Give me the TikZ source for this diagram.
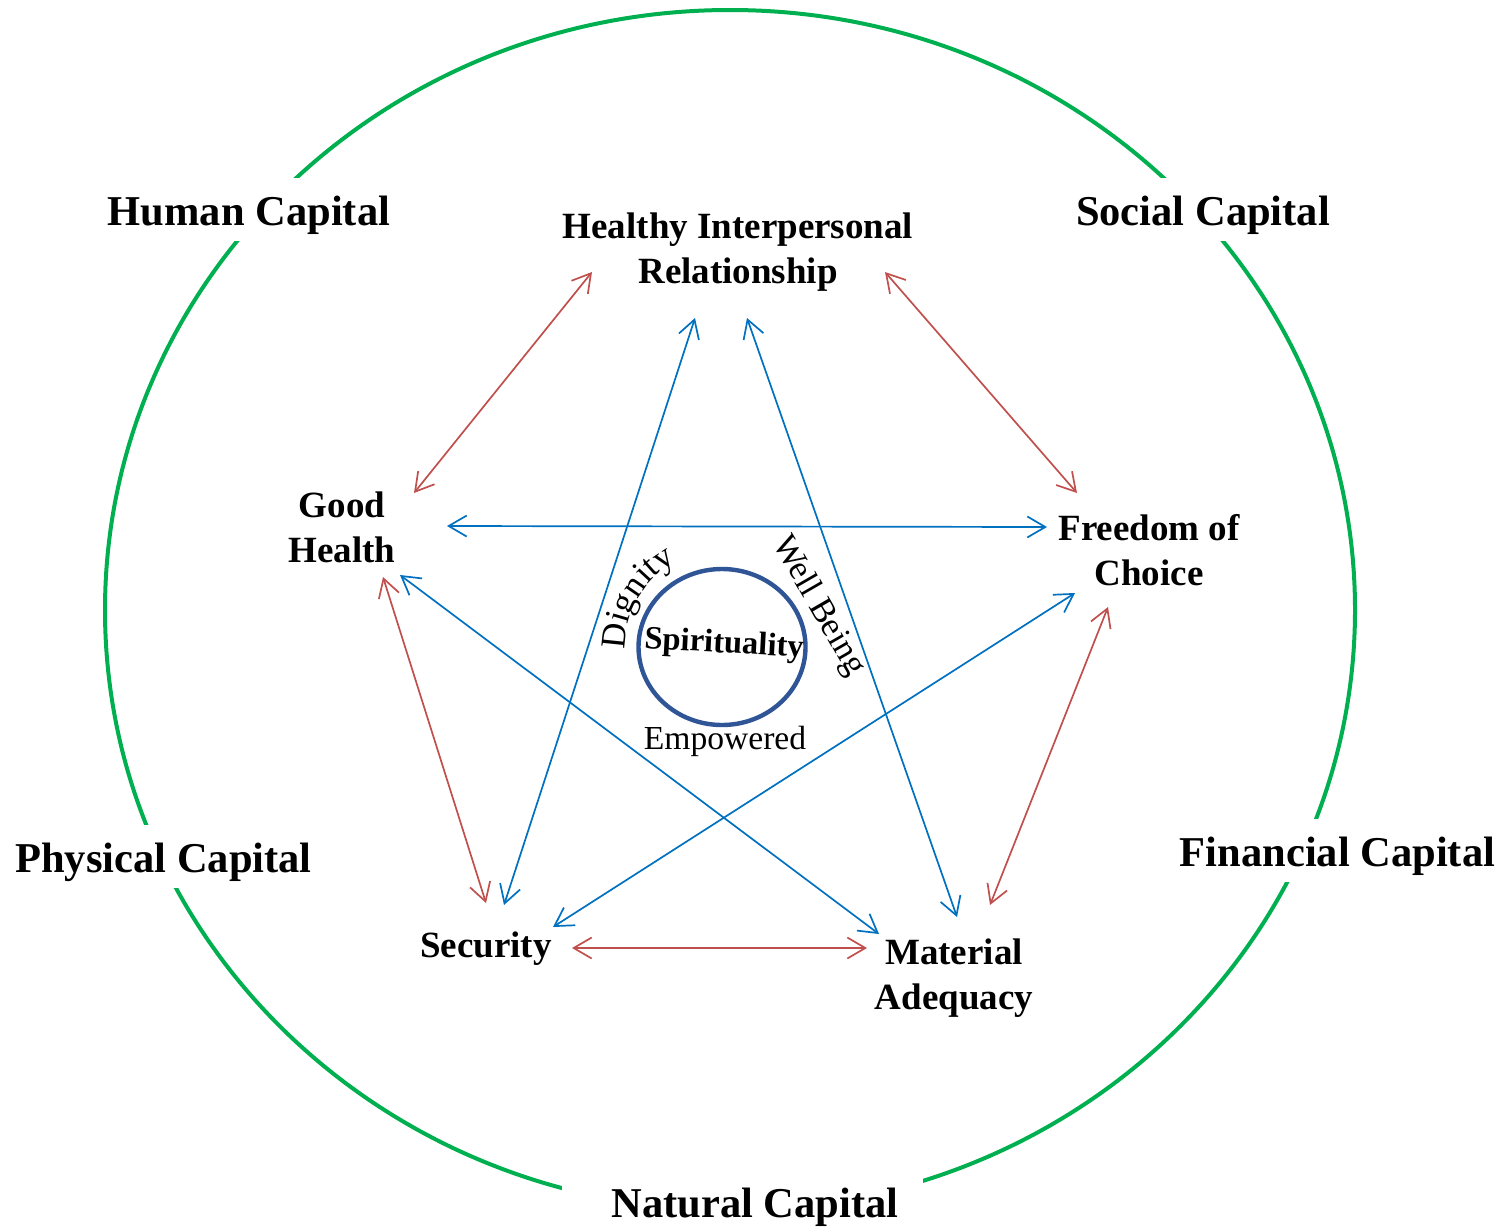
\documentclass[tikz,border=0pt]{standalone}
\usepackage{fontspec}
\setmainfont{Liberation Serif}
\usetikzlibrary{arrows.meta,decorations.text}
\definecolor{capgreen}{RGB}{0,176,80}
\definecolor{arrred}{RGB}{192,80,77}
\definecolor{arrblue}{RGB}{0,112,192}
\definecolor{spiblue}{RGB}{47,85,151}
\begin{document}
\begin{tikzpicture}[x=0.5pt,y=0.5pt,
  caplabel/.style={font=\fontsize{21.25pt}{25pt}\selectfont\bfseries, fill=white, anchor=base,
    text height=23.5pt, text depth=8pt, inner ysep=0pt, inner xsep=3pt},
  keynode/.style={font=\fontsize{18.5pt}{22.5pt}\selectfont\bfseries, align=center, inner sep=0pt},
  duallink/.style={line width=0.85pt, {Straight Barb[length=9pt,width=10.5pt]}-{Straight Barb[length=9pt,width=10.5pt]}},
  redlink/.style={duallink, draw=arrred},
  bluelink/.style={duallink, draw=arrblue},
  softtext/.style={font=\fontsize{16.8pt}{19pt}\selectfont, inner sep=0pt}]
\useasboundingbox (0,0) rectangle (1503,-1226);

% outer capital ellipse
\draw[capgreen, line width=2pt] (730,-610) ellipse [x radius=625, y radius=600];

% capital labels (white background breaks the ellipse)
\node[caplabel] (human) at (249,-225) {Human Capital};
\node[caplabel] (social) at (1203,-225) {Social Capital};
\node[caplabel] (physical) at (163.5,-872) {Physical Capital};
\node[caplabel] (financial) at (1337.5,-866) {Financial Capital};
\fill[white] (562,-1165) rectangle (923,-1226);
\node[caplabel] (natural) at (755,-1217) {Natural Capital};

% key nodes
\node[keynode] (hir) at (738,-252) {Healthy Interpersonal\\Relationship};
\node[keynode] (gh) at (342,-527) {Good\\Health};
\node[keynode] (foc) at (1149,-550) {Freedom of\\Choice};
\node[keynode] (sec) at (486,-949) {Security};
\node[keynode] (ma) at (954,-978) {Material\\Adequacy};

% connector end points
\coordinate (gh-hir) at (414,-493);   \coordinate (hir-gh) at (592,-272);
\coordinate (hir-foc) at (885,-272);  \coordinate (foc-hir) at (1077,-493);
\coordinate (foc-ma) at (1108,-607);  \coordinate (ma-foc) at (990,-905);
\coordinate (sec-ma) at (572,-948);   \coordinate (ma-sec) at (867,-948);
\coordinate (gh-sec) at (383,-577);   \coordinate (sec-gh) at (486,-903);
\coordinate (gh-foc) at (447,-526);   \coordinate (foc-gh) at (1047,-527);
\coordinate (gh-ma) at (400,-575);    \coordinate (ma-gh) at (879,-934);
\coordinate (sec-hir) at (504,-905);  \coordinate (hir-sec) at (695,-318);
\coordinate (ma-hir) at (957,-917);   \coordinate (hir-ma) at (747,-318);
\coordinate (sec-foc) at (553,-927);  \coordinate (foc-sec) at (1075,-593);

% red connectors (pentagon)
\draw[redlink] (gh-hir) -- (hir-gh);
\draw[redlink] (hir-foc) -- (foc-hir);
\draw[redlink] (foc-ma) -- (ma-foc);
\draw[redlink] (sec-ma) -- (ma-sec);
\draw[redlink] (gh-sec) -- (sec-gh);

% blue connectors (star)
\draw[bluelink] (gh-foc) -- (foc-gh);
\draw[bluelink] (gh-ma) -- (ma-gh);
\draw[bluelink] (sec-hir) -- (hir-sec);
\draw[bluelink] (ma-hir) -- (hir-ma);
\draw[bluelink] (sec-foc) -- (foc-sec);

% centre
\coordinate (core) at (722,-647);
\draw[spiblue, line width=2.2pt] (core) ellipse [x radius=83.5, y radius=78];
\node[font=\fontsize{16.3pt}{19pt}\selectfont\bfseries, rotate=-3, inner sep=0pt] (spirit) at (724,-645) {Spirituality};
\node[softtext] (empowered) at (725,-741) {Empowered};
\node[softtext, font=\fontsize{17.2pt}{19pt}\selectfont, rotate=-60] (wellbeing) at (818,-606) {Well Being};
\path[decorate, decoration={text along path, text align=center,
   text={|\fontsize{17.5pt}{20pt}\selectfont|Dignity}}]
   ([shift={(205:97)}]core) arc[start angle=205, end angle=95, radius=97];
\end{tikzpicture}
\end{document}
